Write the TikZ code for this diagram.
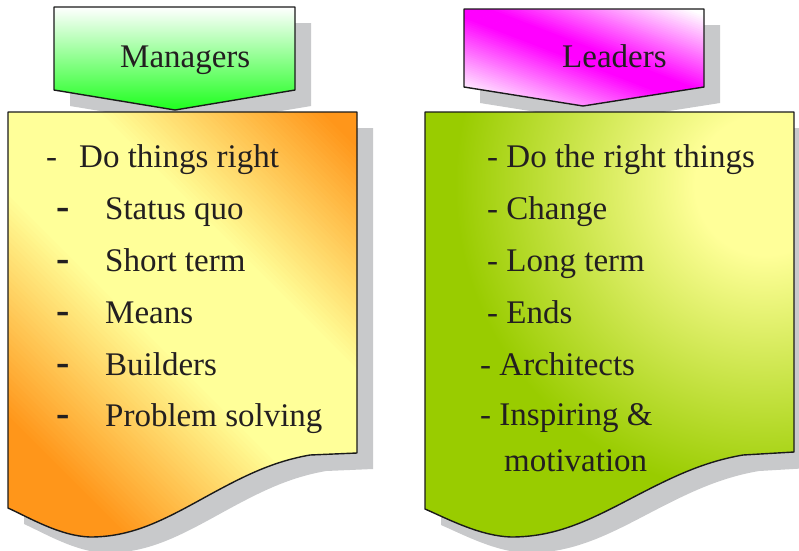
\documentclass[tikz,border=0pt]{standalone}
\usepackage{fontspec}
\setmainfont{Liberation Serif}
\definecolor{shadowc}{HTML}{C8C9CB}
\definecolor{hgreen}{HTML}{1EFF1E}
\definecolor{hmag}{HTML}{FF00FF}
\definecolor{boxorange}{HTML}{FF961A}
\definecolor{boxyellow}{HTML}{FFFF99}
\definecolor{boxgreen}{HTML}{99CC00}
\definecolor{txt}{HTML}{231F20}
\definecolor{edge}{HTML}{1A1A1A}
\pgfdeclareradialshading{gyrad}{\pgfpoint{0bp}{0bp}}{color(0bp)=(boxyellow); color(3.5bp)=(boxyellow); color(15.5bp)=(boxgreen); color(50bp)=(boxgreen)}
\begin{document}
\begin{tikzpicture}[x=1pt,y=-1pt,
  outline/.style={draw=edge,line width=1.4pt,line join=round},
  shadowfill/.style={fill=shadowc,draw=none},
  lbl/.style={anchor=base west,inner sep=0pt,text=txt,font=\fontsize{33}{40}\selectfont},
  bdash/.style={lbl,font=\fontsize{40}{40}\selectfont\bfseries}]
\useasboundingbox (0,0) rectangle (799,550);
\def\lhead{(54,7) -- (295,7) -- (295,90) -- (175,110) -- (54,90) -- cycle}
\def\rhead{(464,9) -- (704,9) -- (704,87) -- (583,106) -- (464,87) -- cycle}
\def\lbox{(8,112) -- (357,112) -- (357,453) -- (310,455) .. controls (270,462) and (240,478) .. (200,500) .. controls (160,522) and (130,537) .. (90,537) .. controls (60,536) and (30,518) .. (8,508) -- cycle}
\def\rbox{(425,112) -- (794,112) -- (794,452) -- (743,455) .. controls (702,462) and (670,478) .. (628,500) .. controls (586,522) and (554,537) .. (511,537) .. controls (480,536) and (448,519) .. (425,509) -- cycle}
% header shadows
\begin{scope}[shift={(16,16)}]
  \path[shadowfill] \lhead;
  \path[shadowfill] \rhead;
\end{scope}
% left header
\path[top color=white,bottom color=hgreen] \lhead;
\draw[outline] \lhead;
% right header: magenta diagonal band
\begin{scope}
  \clip \rhead;
  \begin{scope}[shift={(584,55)},rotate=-21]
    \foreach \dd in {-170,-168,...,170}{
      \pgfmathsetmacro\mixv{min(100,max(0,(abs(\dd)-8)/72*100))}
      \fill[white!\mixv!hmag] (-300,\dd-1.3) rectangle (300,\dd+1.3);
    }
  \end{scope}
\end{scope}
\draw[outline] \rhead;
% box shadows
\begin{scope}[shift={(16,16)}]
  \path[shadowfill] \lbox;
  \path[shadowfill] \rbox;
\end{scope}
% left box: yellow diagonal band, orange corners
\begin{scope}
  \clip \lbox;
  \begin{scope}[shift={(187,287)},rotate=-45]
    \foreach \dd in {-340,-336,...,340}{
      \pgfmathsetmacro\mixv{min(100,max(0,(abs(\dd)-60)/160*100))}
      \fill[boxorange!\mixv!boxyellow] (-500,\dd-2.4) rectangle (500,\dd+2.4);
    }
  \end{scope}
\end{scope}
\draw[outline] \lbox;
% right box: yellow glow top right, green elsewhere
\begin{scope}
  \clip \rbox;
  \shade[shading=gyrad] (765,185) circle (500);
\end{scope}
\draw[outline] \rbox;
% titles
\node[lbl] (mgr) at (120,67) {Managers};
\node[lbl] (ldr) at (562,67) {Leaders};
% left list
\node[lbl] (ld0) at (46,167) {-};
\node[lbl] (l0) at (79,167) {Do things right};
\node[bdash] (ld1) at (56,219) {-};
\node[lbl] (l1) at (105,219) {Status quo};
\node[bdash] (ld2) at (56,271) {-};
\node[lbl] (l2) at (105,271) {Short term};
\node[bdash] (ld3) at (56,323) {-};
\node[lbl] (l3) at (105,323) {Means};
\node[bdash] (ld4) at (56,375) {-};
\node[lbl] (l4) at (105,375) {Builders};
\node[bdash] (ld5) at (56,426) {-};
\node[lbl] (l5) at (105,426) {Problem solving};
% right list
\node[lbl] (r0) at (487,167) {- Do the right things};
\node[lbl] (r1) at (487,219) {- Change};
\node[lbl] (r2) at (487,271) {- Long term};
\node[lbl] (r3) at (487,323) {- Ends};
\node[lbl] (r4) at (480,375) {- Architects};
\node[lbl] (r5) at (480,425) {- Inspiring \&};
\node[lbl] (r6) at (504,471) {motivation};
\end{tikzpicture}
\end{document}
